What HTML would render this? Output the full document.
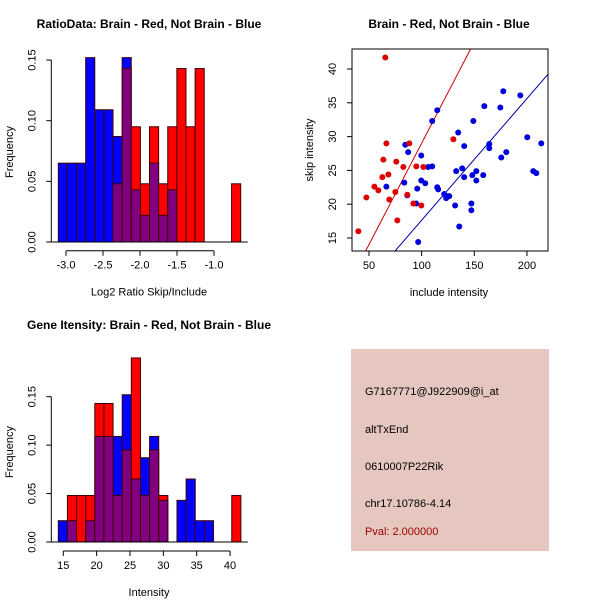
<!DOCTYPE html>
<html><head><meta charset="utf-8"><style>
body{margin:0;background:#fff}
svg{display:block;font-family:"Liberation Sans",sans-serif}
</style></head><body>
<svg id="c" width="600" height="600" viewBox="0 0 600 600"></svg>
<script>
// --- Ratio histogram data ---
const ratioBlue=[0.065,0.065,0.065,0.152,0.109,0.109,0.087,0.152,0.043,0.022,0.065,0.022,0.043,0,0,0,0,0,0,0];
const ratioRed=[0,0,0,0,0,0,0.048,0.143,0.095,0.048,0.095,0.048,0.095,0.143,0.095,0.143,0,0,0,0.048];
const ratioTicks=[-3.0,-2.5,-2.0,-1.5,-1.0];
const ratioTickLabels=["-3.0","-2.5","-2.0","-1.5","-1.0"];
const freqTicks=[0,0.05,0.10,0.15];
const freqTickLabels=["0.00","0.05","0.10","0.15"];
// --- Intensity histogram data ---
const intBlue=[0.022,0.022,0,0.022,0.109,0.109,0.109,0.152,0.065,0.087,0.109,0.043,0,0.043,0.065,0.022,0.022,0,0,0];
const intRed=[0,0.048,0.048,0.048,0.143,0.143,0.048,0.095,0.19,0.048,0.095,0.048,0,0,0,0,0,0,0,0.048];
const intTicks=[15,20,25,30,35,40];
// --- Scatter data ---
const redX=[65.5,39.9,47.5,55.1,58.9,62.7,63.6,66.5,68.4,69.3,75.9,75.0,76.9,82.6,86.4,88.3,92.1,94.9,99.7,101.6,130.1];
const redY=[41.7,16.0,21.0,22.6,22.05,24.0,26.6,29.0,24.4,20.7,26.3,21.8,17.6,25.5,21.4,29.0,20.1,25.6,19.8,25.5,29.6];
const blueX=[66.5,84.5,83.5,86.3,87.2,94.8,95.8,96.7,99.6,99.6,103.4,106.2,110,110,114.8,114.8,115.7,121.4,123.3,124.3,126.2,131.8,132.8,134.7,138.5,140.4,140.4,135.7,147.2,147.2,148.1,149.1,151.9,151.9,158.5,159.5,164.2,164.2,174.7,175.6,177.5,180.4,193.7,200.3,206,208.9,213.6];
const blueY=[22.6,28.8,23.2,21.3,27.7,20.1,22.3,14.4,27.2,23.5,23.1,25.5,25.6,32.3,33.9,22.5,22.2,21.5,20.9,21.2,21.2,19.8,24.9,30.6,25.3,28.6,24.0,16.7,20.1,19.1,24.3,32.3,24.9,23.5,24.3,34.5,28.9,28.3,34.3,26.9,36.7,27.7,36.1,29.9,24.9,24.6,29.0];
const redLine=[-0.95,0.2997];
const blueLine=[-0.37,0.18];
const scatXTicks=[50,100,150,200];
const scatYTicks=[15,20,25,30,35,40];

const svg=document.getElementById('c');
const NS='http://www.w3.org/2000/svg';
function mk(tag,attrs,parent){const e=document.createElementNS(NS,tag);for(const k in attrs)e.setAttribute(k,attrs[k]);(parent||svg).appendChild(e);return e;}
function txt(s,x,y,size,opts,parent){const t=mk('text',Object.assign({x:x,y:y,'font-size':size,'text-anchor':'middle',fill:'#000'},opts||{}),parent);t.textContent=s;return t;}

function hist(name,blue,red,x0,binW,y0,pxPerUnit,ticks,labels,tickX,axisY,xlabel,title,titleY){
  const g=mk('g',{});
  
  
  const yv=v=>y0-v*pxPerUnit;
  for(let i=0;i<blue.length;i++){
    const b=blue[i],r=red[i];const x=x0+i*binW;
    const hi=Math.max(b,r),lo=Math.min(b,r);
    if(hi>0){
      const big=mk('rect',{x:x,y:yv(hi),width:binW,height:hi*pxPerUnit,fill:b>r?'#0000ff':'#ff0000',stroke:'#400000','stroke-width':1},g);
      
      
    }
    if(lo>0){
      const p=mk('rect',{x:x,y:yv(lo),width:binW,height:lo*pxPerUnit,fill:'#800080',stroke:'#400000','stroke-width':1},g);
      
      
    }
  }
  mk('line',{x1:x0-7,x2:x0+blue.length*binW+7,y1:y0,y2:y0,stroke:'#000'},g);
  const ax=x0-7;
  mk('line',{x1:ax,x2:ax,y1:yv(0),y2:yv(0.15),stroke:'#000'},g);
  freqTicks.forEach((v,i)=>{mk('line',{x1:ax-5,x2:ax,y1:yv(v),y2:yv(v),stroke:'#000'},g);
    txt(freqTickLabels[i],ax-16,yv(v),11,{transform:`rotate(-90 ${ax-16} ${yv(v)})`},g);});
  txt('Frequency',13,y0-90,11,{transform:`rotate(-90 13 ${y0-90})`},g);
  mk('line',{x1:tickX(ticks[0]),x2:tickX(ticks[ticks.length-1]),y1:axisY,y2:axisY,stroke:'#000'},g);
  ticks.forEach((v,i)=>{mk('line',{x1:tickX(v),x2:tickX(v),y1:axisY,y2:axisY+5,stroke:'#000'},g);
    txt(labels[i],tickX(v),axisY+18,11,{},g);});
  txt(xlabel,149,axisY+45,11,{},g);
  const t=txt(title,149,titleY,12,{'font-weight':'bold'},g);
  
  
}
hist('ratio-histogram',ratioBlue,ratioRed,58.3,9.12,242,1213,ratioTicks,ratioTickLabels,v=>66+(v+3)*74,250.7,'Log2 Ratio Skip/Include','RatioData: Brain - Red, Not Brain - Blue',28);
hist('intensity-histogram',intBlue,intRed,58.3,9.13,542,968.7,intTicks,intTicks.map(String),v=>63.3+(v-15)*6.67,551,'Intensity','Gene Itensity: Brain - Red, Not Brain - Blue',329);

const sg=mk('g',{});


const sx=v=>369+(v-50)*1.053, sy=v=>69-(v-40)*6.76;
const L=352,R=548,T=49,B=251;
const cp=mk('clipPath',{id:'clip'},sg);mk('rect',{x:L,y:T,width:R-L,height:B-T},cp);
[[redLine,'#cc0000'],[blueLine,'#0000aa']].forEach(([ln,col],k)=>{
  const l=mk('line',{x1:sx(0),y1:sy(ln[0]),x2:sx(260),y2:sy(ln[0]+ln[1]*260),stroke:col,'stroke-width':1,'clip-path':'url(#clip)'},sg);
  
  
});
blueX.forEach((v,i)=>{const c=mk('circle',{cx:sx(v),cy:sy(blueY[i]),r:3,fill:'#0000dd'},sg);
  
  });
redX.forEach((v,i)=>{const c=mk('circle',{cx:sx(v),cy:sy(redY[i]),r:3,fill:'#dd0000'},sg);
  
  });
mk('rect',{x:L,y:T,width:R-L,height:B-T,fill:'none',stroke:'#000'},sg);
scatXTicks.forEach(v=>{mk('line',{x1:sx(v),x2:sx(v),y1:B,y2:B+5,stroke:'#000'},sg);txt(String(v),sx(v),B+18,11,{},sg);});
scatYTicks.forEach(v=>{mk('line',{x1:L-5,x2:L,y1:sy(v),y2:sy(v),stroke:'#000'},sg);txt(String(v),L-16,sy(v),11,{transform:`rotate(-90 ${L-16} ${sy(v)})`},sg);});
txt('include intensity',449,296,11,{},sg);
txt('skip intensity',313,150,11,{transform:'rotate(-90 313 150)'},sg);
txt('Brain - Red, Not Brain - Blue',449,28,12,{'font-weight':'bold'},sg);

const ig=mk('g',{});


mk('rect',{x:351,y:349,width:198,height:202,fill:'#e5c7c0'},ig);
[['G7167771@J922909@i_at',395],['altTxEnd',433],['0610007P22Rik',470],['chr17.10786-4.14',507]].forEach(([s,y])=>txt(s,365,y,11,{'text-anchor':'start'},ig));
txt('Pval: 2.000000',365,535,11,{'text-anchor':'start',fill:'#a00000'},ig);
</script>
</body></html>
